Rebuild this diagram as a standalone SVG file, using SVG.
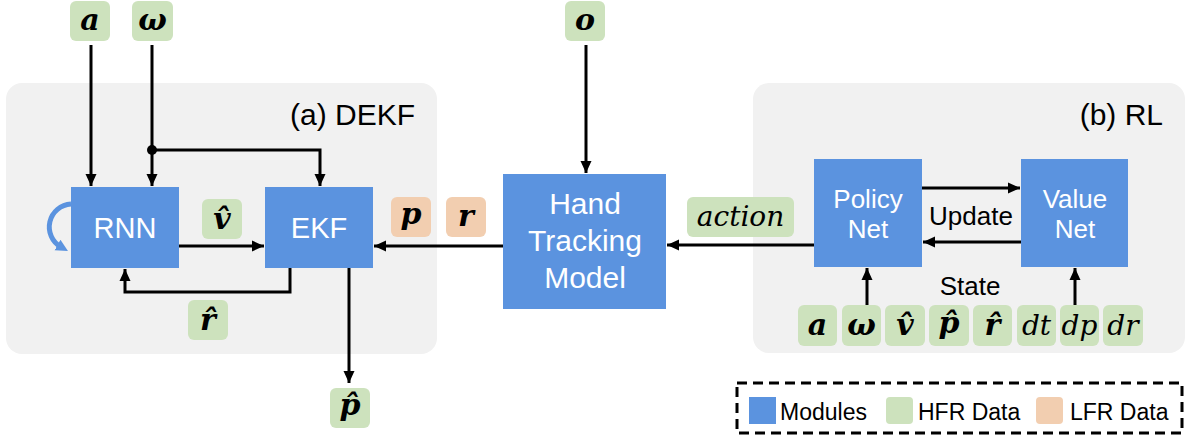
<svg xmlns="http://www.w3.org/2000/svg" width="1187" height="439" viewBox="0 0 1187 439">
<defs>
<style>
.panel{fill:#F1F1F1}
.mod{fill:#5B93DF}
.hfr{fill:#CDE2BD}
.lfr{fill:#F2CEB0}
.mt{font-family:"Liberation Sans",Arial,sans-serif;fill:#fff;text-anchor:middle}
.t{font-family:"Liberation Sans",Arial,sans-serif;fill:#000}
.mb{font-family:"DejaVu Serif",serif;font-weight:bold;font-style:italic;font-size:30px;text-anchor:middle;fill:#000}
.mi{font-family:"DejaVu Serif",serif;font-style:italic;font-size:28px;text-anchor:middle;fill:#000}
.c{fill:none;stroke:#000;stroke-width:3}
</style>
<marker id="ah" markerWidth="14" markerHeight="14" refX="12" refY="7" orient="auto" markerUnits="userSpaceOnUse">
<path d="M0,1.5 L12,7 L0,12.5 Z" fill="#000"/>
</marker>
<marker id="bh" markerWidth="14" markerHeight="14" refX="4" refY="7" orient="auto" markerUnits="userSpaceOnUse">
<path d="M0,1 L12,7 L0,13 Z" fill="#5B93DF"/>
</marker>
</defs>

<g id="panel-dekf">
<rect class="panel" x="6" y="83" width="431" height="271" rx="16"/>
<text class="t" x="415" y="125" font-size="30" text-anchor="end">(a) DEKF</text>
</g>
<g id="panel-rl">
<rect class="panel" x="753" y="83" width="432" height="270" rx="16"/>
<text class="t" x="1163" y="125" font-size="30" text-anchor="end">(b) RL</text>
</g>

<g id="connectors">
<path class="c" d="M91 45 V186" marker-end="url(#ah)"/>
<path class="c" d="M152 45 V186" marker-end="url(#ah)"/>
<path class="c" d="M152 150 H320 V186" marker-end="url(#ah)"/>
<circle cx="152" cy="150" r="5" fill="#000"/>
<path class="c" d="M179 246 H264" marker-end="url(#ah)"/>
<path class="c" d="M290 268 V292 H125 V269" marker-end="url(#ah)"/>
<path class="c" d="M349 268 V383" marker-end="url(#ah)"/>
<path class="c" d="M503 246 H374" marker-end="url(#ah)"/>
<path class="c" d="M586 45 V173" marker-end="url(#ah)"/>
<path class="c" d="M814 245 H667" marker-end="url(#ah)"/>
<path class="c" d="M922 188 H1020" marker-end="url(#ah)"/>
<path class="c" d="M1021 242 H923" marker-end="url(#ah)"/>
<path class="c" d="M867 305 V268" marker-end="url(#ah)"/>
<path class="c" d="M1075 305 V268" marker-end="url(#ah)"/>
<path d="M71 204 A23 23 0 0 0 61 247" fill="none" stroke="#5B93DF" stroke-width="5" marker-end="url(#bh)"/>
</g>

<g id="rnn">
<rect class="mod" x="71" y="187" width="108" height="81"/>
<text class="mt" x="125" y="238" font-size="29">RNN</text>
</g>
<g id="ekf">
<rect class="mod" x="265" y="187" width="108" height="81"/>
<text class="mt" x="319" y="238" font-size="29">EKF</text>
</g>
<g id="htm">
<rect class="mod" x="503" y="174" width="163" height="135"/>
<text class="mt" x="585" y="214" font-size="30">Hand</text>
<text class="mt" x="585" y="251" font-size="30">Tracking</text>
<text class="mt" x="585" y="288" font-size="30">Model</text>
</g>
<g id="policy">
<rect class="mod" x="814" y="159" width="108" height="108"/>
<text class="mt" x="868" y="208" font-size="26">Policy</text>
<text class="mt" x="868" y="238" font-size="26">Net</text>
</g>
<g id="value">
<rect class="mod" x="1021" y="159" width="107" height="108"/>
<text class="mt" x="1075" y="208" font-size="26">Value</text>
<text class="mt" x="1075" y="238" font-size="26">Net</text>
</g>

<g id="lbl-a"><rect class="hfr" x="70" y="1" width="40" height="40" rx="6"/><text class="mb" x="90" y="30">a</text></g>
<g id="lbl-w"><rect class="hfr" x="132" y="1" width="41" height="40" rx="6"/><text class="mb" x="152.5" y="30">ω</text></g>
<g id="lbl-o"><rect class="hfr" x="565" y="1" width="40" height="40" rx="6"/><text class="mb" x="585" y="30">o</text></g>
<g id="lbl-vhat"><rect class="hfr" x="202" y="199" width="40" height="40" rx="6"/><text class="mb" x="222" y="229">v̂</text></g>
<g id="lbl-rhat"><rect class="hfr" x="188" y="300" width="40" height="40" rx="6"/><text class="mb" x="208" y="330">r̂</text></g>
<g id="lbl-phat"><rect class="hfr" x="330" y="388" width="40" height="40" rx="6"/><text class="mb" x="350" y="415">p̂</text></g>
<g id="lbl-p"><rect class="lfr" x="391" y="197" width="40" height="40" rx="6"/><text class="mb" x="411" y="224">p</text></g>
<g id="lbl-r"><rect class="lfr" x="446" y="197" width="40" height="40" rx="6"/><text class="mb" x="466" y="226">r</text></g>
<g id="lbl-action"><rect class="hfr" x="687" y="197" width="107" height="40" rx="6"/><text class="mi" x="740.5" y="226" font-size="30">action</text></g>

<g id="state">
<text class="t" x="970" y="295" font-size="26" text-anchor="middle">State</text>
<rect class="hfr" x="798" y="305" width="39" height="41" rx="6"/><text class="mb" x="817.5" y="335">a</text>
<rect class="hfr" x="842" y="305" width="39" height="41" rx="6"/><text class="mb" x="861.5" y="335">ω</text>
<rect class="hfr" x="885" y="305" width="40" height="41" rx="6"/><text class="mb" x="905" y="335">v̂</text>
<rect class="hfr" x="929" y="305" width="40" height="41" rx="6"/><text class="mb" x="949" y="333">p̂</text>
<rect class="hfr" x="973" y="305" width="39" height="41" rx="6"/><text class="mb" x="992.5" y="335">r̂</text>
<rect class="hfr" x="1017" y="305" width="39" height="41" rx="6"/><text class="mi" x="1036.5" y="335">dt</text>
<rect class="hfr" x="1060" y="305" width="39" height="41" rx="6"/><text class="mi" x="1079.5" y="335">dp</text>
<rect class="hfr" x="1103" y="305" width="40" height="41" rx="6"/><text class="mi" x="1123" y="335">dr</text>
</g>
<text class="t" x="971" y="225" font-size="26" text-anchor="middle">Update</text>

<g id="legend">
<rect x="737" y="383" width="445" height="50" fill="none" stroke="#000" stroke-width="3" stroke-dasharray="10 6"/>
<rect class="mod" x="749" y="397" width="27" height="27"/>
<text class="t" x="780" y="420" font-size="23">Modules</text>
<rect class="hfr" x="886" y="397" width="27" height="27" rx="4"/>
<text class="t" x="918" y="420" font-size="23">HFR Data</text>
<rect class="lfr" x="1036" y="397" width="27" height="27" rx="4"/>
<text class="t" x="1070" y="420" font-size="23">LFR Data</text>
</g>
</svg>
